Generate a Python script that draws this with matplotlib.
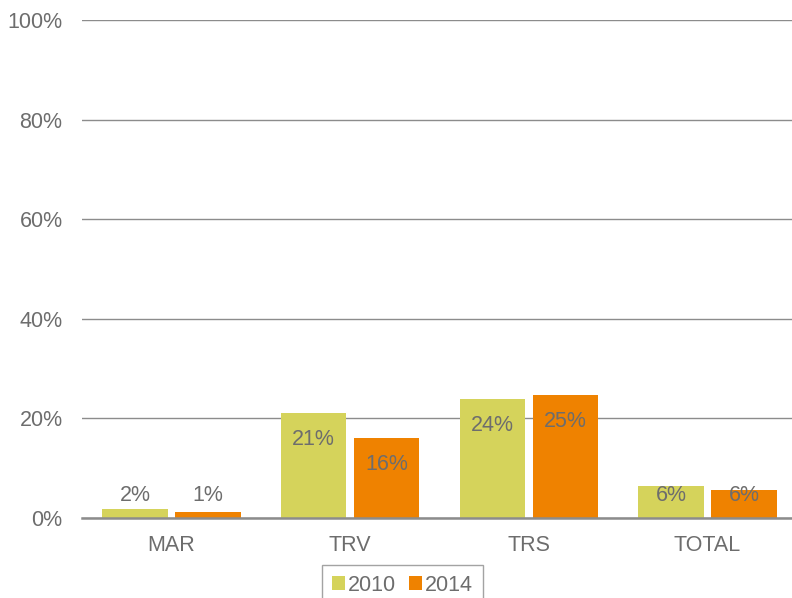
import numpy as np
import matplotlib.pyplot as plt
from matplotlib.ticker import FuncFormatter

plt.rcParams['font.family'] = ['Liberation Sans', 'DejaVu Sans']

# Chart data
categories = ["MAR", "TRV", "TRS", "TOTAL"]
values_2010 = [1.8, 21.1, 23.9, 6.4]
values_2014 = [1.2, 16.1, 24.7, 5.6]
labels_2010 = ["2%", "21%", "24%", "6%"]
labels_2014 = ["1%", "16%", "25%", "6%"]

color_2010 = "#d5d35b"
color_2014 = "#ef8200"
text_gray = "#6d6d6d"
fs = 15.5

fig = plt.figure(figsize=(7.92, 5.98), dpi=100)
ax = fig.add_axes([82 / 792, 1 - 518 / 598, 715 / 792, 498 / 598])

x = np.arange(len(categories))
width = 0.367
off = 0.204
b1 = ax.bar(x - off, values_2010, width, color=color_2010, label="2010", zorder=3)
b2 = ax.bar(x + off, values_2014, width, color=color_2014, label="2014", zorder=3)

# Data labels: inside the bar end, but kept above the axis for short bars
for bars, labels in ((b1, labels_2010), (b2, labels_2014)):
    for rect, lab in zip(bars, labels):
        y = max(rect.get_height() - 5.3, 4.5)
        ax.text(rect.get_x() + rect.get_width() / 2, y, lab,
                ha="center", va="center", fontsize=fs, color=text_gray, zorder=4)

ax.set_xlim(-0.5, 3.5)
ax.set_ylim(0, 100)
ax.set_yticks(range(0, 101, 20))
ax.yaxis.set_major_formatter(FuncFormatter(lambda v, p: f"{int(v)}%"))
ax.set_xticks(x)
ax.set_xticklabels(categories)
ax.tick_params(axis="both", length=0, labelsize=fs, labelcolor=text_gray)
ax.tick_params(axis="y", pad=14)
ax.tick_params(axis="x", pad=12)

ax.grid(axis="y", color="#8c8c8c", linewidth=1.0, zorder=0)
for side in ("top", "right", "left"):
    ax.spines[side].set_visible(False)
ax.spines["bottom"].set_color("#8c8c8c")
ax.spines["bottom"].set_linewidth(1.8)
ax.spines["bottom"].set_zorder(5)

leg = ax.legend(loc="upper left", bbox_to_anchor=(322 / 792, 1 - 565 / 598),
                bbox_transform=fig.transFigure, ncol=2, frameon=True,
                fancybox=False, borderaxespad=0, fontsize=fs,
                handlelength=0.6, handleheight=0.6, handletextpad=0.15,
                columnspacing=0.6, borderpad=0.45)
leg.get_frame().set_edgecolor("#8c8c8c")
leg.get_frame().set_linewidth(1.0)
for t in leg.get_texts():
    t.set_color(text_gray)

fig.savefig("out.png", dpi=100)
plt.close()
